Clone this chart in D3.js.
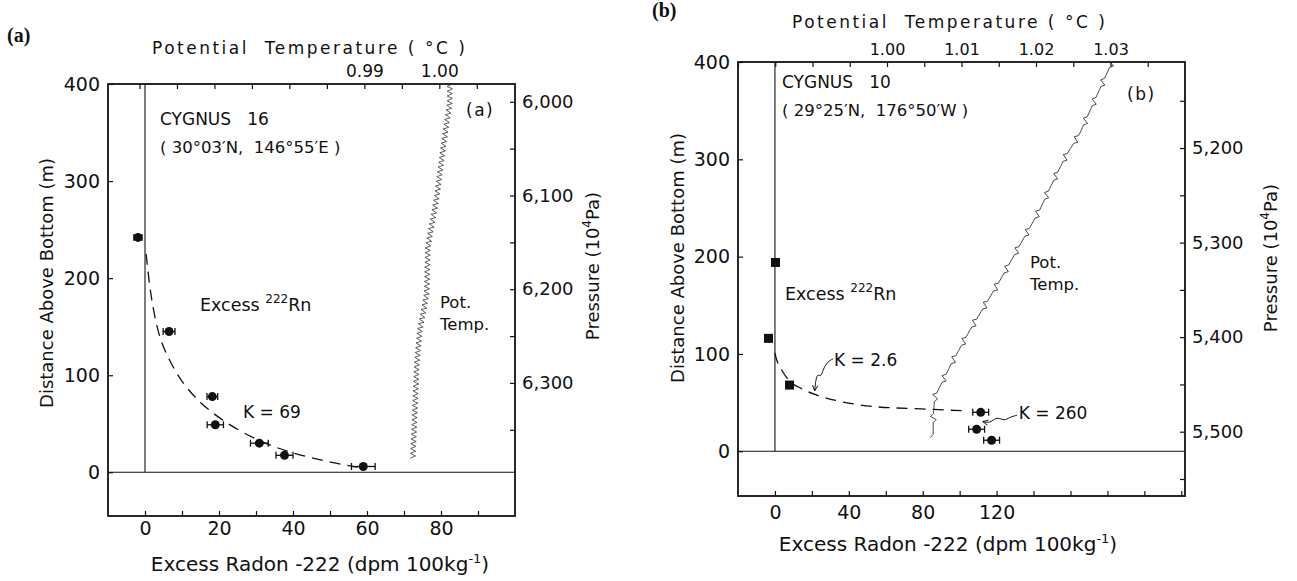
<!DOCTYPE html>
<meta charset="utf-8">
<style>
body { margin: 0; background: #fff; }
svg text { font-family: "DejaVu Sans", "Noto Sans", sans-serif; fill: #111; }
</style>
<svg width="1297" height="581"></svg>
<script src="https://d3js.org/d3.v7.min.js"></script>
<script>

// ---- panel (a): CYGNUS 16 ----
var aRadon  = [-1.9, 6.5, 18.2, 19, 30.9, 37.7, 59];
var aHeight = [242, 145, 78, 49, 30, 17.5, 6];
var aErr    = [1.1, 1.6, 1.45, 2.2, 2.4, 2.3, 3.2];
var aFitX   = [0.3, 1, 1.8, 3.5, 6, 10, 15, 20, 26.6, 34.7, 43.8, 54.7, 58];
var aFitZ   = [225, 200, 177, 143, 119, 92, 71, 56, 40, 26, 15.5, 7, 5];
var aTemp   = [1.0014, 1.0014, 1.00047, 0.99967, 0.99847, 0.99833, 0.9974, 0.997, 0.99673, 0.99647];
var aTempZ  = [400, 381, 332, 283.5, 232, 184.5, 146, 112, 61, 14];
var aXLabels = [0, 20, 40, 60, 80];
var aTLabels = [0.99, 1.00];
var aPLabels = [6000, 6100, 6200, 6300];

// ---- panel (b): CYGNUS 10 ----
var bSqX    = [0.3, -3.5, 7.9];
var bSqZ    = [194, 116, 68];
var bRadon  = [111.4, 109.2, 117.3];
var bHeight = [40, 22.6, 11.3];
var bErr    = [4.3, 4.3, 4.3];
var bFitX   = [0, 1, 3.5, 8, 14, 21, 36.6, 55, 73, 96.5, 103];
var bFitZ   = [101, 92, 84, 70, 65, 58, 50, 45, 44, 42, 41.5];
var bTemp   = [1.0302, 1.0279, 1.0259, 1.0239, 1.0219, 1.0205, 1.0152, 1.0111, 1.0085, 1.0064, 1.0062, 1.0062];
var bTempZ  = [400, 361, 327, 302, 271, 248, 176, 124, 88, 55.5, 34, 13];
var bXLabels = [0, 40, 80, 120];
var bTLabels = [1.00, 1.01, 1.02, 1.03];
var bPLabels = [5200, 5300, 5400, 5500];
var zLabels  = [0, 100, 200, 300, 400];

var svg = d3.select("svg");
var ink = "#111";

// walk along a pixel polyline and give it the zigzag look of the recorder trace
function zigzag(pts, step, amp, every) {
  var segs = [], L = 0;
  for (var i = 1; i < pts.length; i++) {
    var dx = pts[i][0] - pts[i-1][0], dy = pts[i][1] - pts[i-1][1];
    var l = Math.sqrt(dx*dx + dy*dy);
    segs.push({a: pts[i-1], dx: dx, dy: dy, l: l, s: L});
    L += l;
  }
  var out = [], k = 0;
  for (var d = 0; d <= L; d += step, k++) {
    var s = segs.find(function(q) { return d <= q.s + q.l; }) || segs[segs.length-1];
    var f = s.l ? (d - s.s) / s.l : 0;
    var px = s.a[0] + s.dx*f, py = s.a[1] + s.dy*f;
    var nx = -s.dy / s.l, ny = s.dx / s.l;
    var o = 0;
    if (every) { var m = k % every; o = m == 0 ? amp : (m == 1 ? -amp : 0); }
    else o = (k % 2 ? amp : -amp);
    out.push([px + nx*o, py + ny*o]);
  }
  return d3.line()(out);
}

function styleText(sel, size) {
  sel.selectAll("text").attr("font-size", size).attr("font-family", null).attr("fill", ink);
  sel.attr("font-family", null).attr("font-size", null);
}

function drawPanel(c) {
  var g = svg.append("g");
  var x = d3.scaleLinear().domain(c.xDom).range([c.left, c.right]);
  var y = d3.scaleLinear().domain(c.zDom).range([c.bottom, c.top]);
  var t = d3.scaleLinear().domain(c.tDom).range([c.left, c.right]);
  var p = d3.scaleLinear().domain(c.pDom).range([c.top, c.bottom]);

  // minor ticks (no labels), all pointing inward
  var tick = function(axis, vals) { return axis.tickValues(vals).tickSize(-5).tickFormat(""); };
  g.append("g").attr("transform", "translate(0," + c.bottom + ")")
    .call(tick(d3.axisBottom(x), d3.range(0, c.xDom[1] - 1, c.xStep)));
  g.append("g").attr("transform", "translate(0," + c.top + ")")
    .call(tick(d3.axisTop(t), d3.range(Math.ceil(c.tDom[0] / 0.005) * 0.005, c.tDom[1] - 0.002, 0.005)));
  g.append("g").attr("transform", "translate(" + c.left + ",0)")
    .call(tick(d3.axisLeft(y), zLabels));
  g.append("g").attr("transform", "translate(" + c.right + ",0)")
    .call(tick(d3.axisRight(p), d3.range(Math.ceil(c.pDom[0] / 50) * 50, c.pLabels[c.pLabels.length-1] + 51, 50)));

  // labelled ticks
  g.append("g").attr("transform", "translate(0," + c.bottom + ")")
    .call(d3.axisBottom(x).tickValues(c.xLabels).tickSize(0).tickPadding(c.xPad))
    .call(styleText, 19);
  g.append("g").attr("transform", "translate(0," + c.top + ")")
    .call(d3.axisTop(t).tickValues(c.tLabels).tickSize(0).tickPadding(7).tickFormat(d3.format(".2f")))
    .call(styleText, c.tSize);
  g.append("g").attr("transform", "translate(" + c.left + ",0)")
    .call(d3.axisLeft(y).tickValues(zLabels).tickSize(0).tickPadding(8))
    .call(styleText, 19);
  g.append("g").attr("transform", "translate(" + c.right + ",0)")
    .call(d3.axisRight(p).tickValues(c.pLabels).tickSize(0).tickPadding(7).tickFormat(d3.format(",")))
    .call(styleText, 18);
  g.selectAll(".domain").remove();
  g.selectAll(".tick line").attr("stroke", ink).attr("stroke-width", 1.2);

  // frame and zero lines
  g.append("rect").attr("x", c.left).attr("y", c.top)
    .attr("width", c.right - c.left).attr("height", c.bottom - c.top)
    .attr("fill", "none").attr("stroke", ink).attr("stroke-width", 1.8);
  g.append("line").attr("x1", c.left).attr("x2", c.right).attr("y1", y(0)).attr("y2", y(0))
    .attr("stroke", ink).attr("stroke-width", 1.1);
  g.append("line").attr("x1", x(0)).attr("x2", x(0)).attr("y1", y(0)).attr("y2", c.top)
    .attr("stroke", ink).attr("stroke-width", 1.1);

  // potential temperature trace
  var tp = c.temp.map(function(v, i) { return [t(v), y(c.tempZ[i])]; });
  g.append("path").attr("d", zigzag(tp, c.zzStep, c.zzAmp, c.zzEvery))
    .attr("fill", "none").attr("stroke", "#333").attr("stroke-width", c.zzWidth);

  // fitted radon profile
  g.append("path")
    .attr("d", d3.line().curve(d3.curveBasis)
      .x(function(d) { return x(d[0]); }).y(function(d) { return y(d[1]); })(d3.zip(c.fitX, c.fitZ)))
    .attr("fill", "none").attr("stroke", ink).attr("stroke-width", 1.3)
    .attr("stroke-dasharray", "11,7");

  // radon points with error bars
  var pts = g.append("g").selectAll("g").data(d3.range(c.radon.length)).enter().append("g");
  pts.append("line")
    .attr("x1", function(i) { return x(c.radon[i] - c.err[i]); })
    .attr("x2", function(i) { return x(c.radon[i] + c.err[i]); })
    .attr("y1", function(i) { return y(c.height[i]); }).attr("y2", function(i) { return y(c.height[i]); })
    .attr("stroke", ink).attr("stroke-width", 1.3);
  [-1, 1].forEach(function(sg) {
    pts.append("line")
      .attr("x1", function(i) { return x(c.radon[i] + sg*c.err[i]); })
      .attr("x2", function(i) { return x(c.radon[i] + sg*c.err[i]); })
      .attr("y1", function(i) { return y(c.height[i]) - 3.5; })
      .attr("y2", function(i) { return y(c.height[i]) + 3.5; })
      .attr("stroke", ink).attr("stroke-width", 1.3);
  });
  pts.append("circle")
    .attr("cx", function(i) { return x(c.radon[i]); }).attr("cy", function(i) { return y(c.height[i]); })
    .attr("r", 4.5).attr("fill", ink);

  if (c.sqX) {
    g.append("g").selectAll("rect").data(d3.range(c.sqX.length)).enter().append("rect")
      .attr("x", function(i) { return x(c.sqX[i]) - 4.5; })
      .attr("y", function(i) { return y(c.sqZ[i]) - 4.5; })
      .attr("width", 9).attr("height", 9).attr("fill", ink);
  }

  // text
  g.append("text").attr("x", c.tag[0]).attr("y", c.tag[1])
    .attr("font-weight", "bold").attr("font-size", 20)
    .style("font-family", "'Liberation Serif', serif").text(c.tag[2]);
  g.append("text").attr("x", c.title[0]).attr("y", c.title[1]).attr("font-size", 17)
    .attr("letter-spacing", 2.5).style("white-space", "pre")
    .text("Potential  Temperature ( °C )");
  g.append("text").attr("transform", "translate(" + c.zTitle[0] + "," + c.zTitle[1] + ") rotate(-90)")
    .attr("text-anchor", "middle").attr("dy", "0.35em").attr("font-size", 18)
    .text("Distance Above Bottom (m)");
  var pt = g.append("text").attr("transform", "translate(" + c.pTitle[0] + "," + c.pTitle[1] + ") rotate(-90)")
    .attr("text-anchor", "middle").attr("dy", "0.35em").attr("font-size", 18);
  pt.append("tspan").text("Pressure (10");
  pt.append("tspan").attr("font-size", 12).attr("dy", -8).text("4");
  pt.append("tspan").attr("dy", 8).text("Pa)");
  var xt = g.append("text").attr("x", c.xTitle[0]).attr("y", c.xTitle[1])
    .attr("text-anchor", "middle").attr("font-size", 20);
  xt.append("tspan").text("Excess Radon -222 (dpm 100kg");
  xt.append("tspan").attr("font-size", 13).attr("dy", -8).text("-1");
  xt.append("tspan").attr("dy", 8).text(")");

  g.append("text").attr("x", c.cruise[0]).attr("y", c.cruise[1]).attr("font-size", 17)
    .style("white-space", "pre").text(c.cruise[2]);
  g.append("text").attr("x", c.cruise[0]).attr("y", c.cruise[1] + 28).attr("font-size", 16.5)
    .style("white-space", "pre").text(c.cruise[3]);
  g.append("text").attr("x", c.inner[0]).attr("y", c.inner[1]).attr("font-size", 17)
    .attr("letter-spacing", 1.5).text(c.inner[2]);

  var rn = g.append("text").attr("x", c.rn[0]).attr("y", c.rn[1]).attr("font-size", 17.5);
  rn.append("tspan").text("Excess ");
  rn.append("tspan").attr("font-size", 12).attr("dy", -8).text("222");
  rn.append("tspan").attr("dy", 8).text("Rn");
  g.append("text").attr("x", c.pot[0]).attr("y", c.pot[1]).attr("font-size", 16.5).text("Pot.");
  g.append("text").attr("x", c.pot[0]).attr("y", c.pot[1] + 22).attr("font-size", 16.5).text("Temp.");

  c.ks.forEach(function(k) {
    g.append("text").attr("x", x(k.at[0])).attr("y", y(k.at[1])).attr("font-size", 17)
      .style("white-space", "pre").text(k.text);
    if (k.arrow) {
      var ap = k.arrow.map(function(d) { return [x(d[0]), y(d[1])]; });
      g.append("path").attr("d", d3.line().curve(d3.curveBasis)(ap))
        .attr("fill", "none").attr("stroke", ink).attr("stroke-width", 1);
      var e = ap[ap.length-1], s = ap[ap.length-2];
      var ang = Math.atan2(e[1] - s[1], e[0] - s[0]);
      var h = 6;
      g.append("path").attr("d", d3.line()([
          [e[0] - h*Math.cos(ang - 0.45), e[1] - h*Math.sin(ang - 0.45)], e,
          [e[0] - h*Math.cos(ang + 0.45), e[1] - h*Math.sin(ang + 0.45)]]))
        .attr("fill", "none").attr("stroke", ink).attr("stroke-width", 1);
    }
  });
}

drawPanel({
  left: 108, right: 515, top: 84, bottom: 516,
  xDom: [-10, 100], zDom: [-45, 400], tDom: [0.9558, 1.0101], pDom: [5981, 6442],
  xStep: 10, xLabels: aXLabels, xPad: 6, tLabels: aTLabels, tSize: 17, pLabels: aPLabels,
  radon: aRadon, height: aHeight, err: aErr, fitX: aFitX, fitZ: aFitZ,
  temp: aTemp, tempZ: aTempZ, zzStep: 2.4, zzAmp: 2.6, zzEvery: 0, zzWidth: 0.8,
  tag: [7, 42, "(a)"], title: [152, 54], zTitle: [47, 283], pTitle: [593, 266], xTitle: [320, 571],
  cruise: [160, 125, "CYGNUS   16", "( 30°03′N,  146°55′E )"], inner: [466, 116, "(a)"],
  rn: [200, 311], pot: [440, 308],
  ks: [{at: [26.5, 56], text: "K = 69"}]
});

drawPanel({
  left: 738, right: 1185, top: 62, bottom: 496,
  xDom: [-20, 222], zDom: [-46, 400], tDom: [0.98, 1.04], pDom: [5109, 5568],
  xStep: 20, xLabels: bXLabels, xPad: 10, tLabels: bTLabels, tSize: 16, pLabels: bPLabels,
  radon: bRadon, height: bHeight, err: bErr, fitX: bFitX, fitZ: bFitZ, sqX: bSqX, sqZ: bSqZ,
  temp: bTemp, tempZ: bTempZ, zzStep: 3, zzAmp: 3, zzEvery: 7, zzWidth: 0.9,
  tag: [652, 17, "(b)"], title: [792, 28], zTitle: [678, 258], pTitle: [1271, 258], xTitle: [948, 551],
  cruise: [782, 88, "CYGNUS   10", "( 29°25′N,  176°50′W )"], inner: [1127, 100, "(b)"],
  rn: [785, 300], pot: [1030, 268],
  ks: [
    {at: [32, 88], text: "K = 2.6",
     arrow: [[31.5, 95], [28.5, 92], [26, 84], [25, 76], [23, 80], [22, 72], [21.5, 62]]},
    {at: [132, 33], text: "K = 260",
     arrow: [[131, 37], [127, 35], [124, 31], [121, 35], [118, 32], [116, 29], [112.5, 30.5]]}
  ]
});

</script>
